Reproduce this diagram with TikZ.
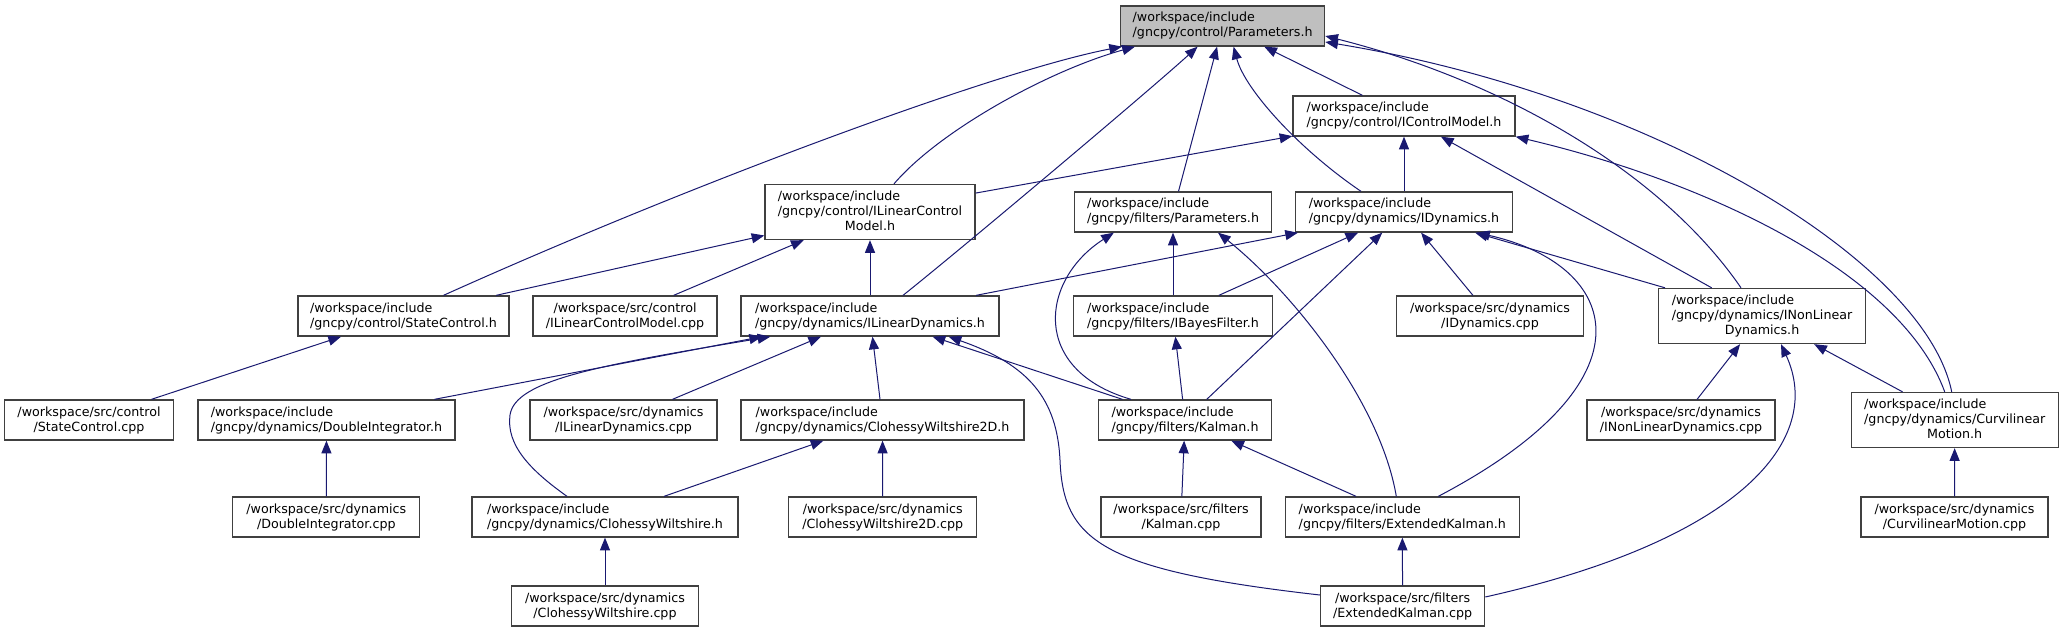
\documentclass[tikz,border=0pt]{standalone}
\usepackage{fontspec}
\setmainfont{DejaVu Sans}
\usetikzlibrary{arrows.meta,calc}
\definecolor{edgeblue}{HTML}{191970}
\definecolor{boxline}{HTML}{404040}
\definecolor{rootfill}{HTML}{BFBFBF}
\newcommand\threelines[3]{\begin{tabular}{@{}l@{}}#1\\#2\\\multicolumn{1}{@{}c@{}}{#3}\end{tabular}}

\begin{document}
\begin{tikzpicture}[x=0.75pt,y=-0.75pt,
  every node/.style={font=\fontsize{9.5}{11.25}\selectfont},
  file/.style={draw=boxline,line width=1pt,fill=white,inner sep=0pt,minimum height=30pt},
  tall/.style={minimum height=41.25pt},
  bw/.style={minimum width=#1*0.75pt},
  inc/.style={file,align=left},
  src/.style={file,align=center},
  dep/.style={draw=edgeblue,line width=0.75pt,{Triangle[length=9.5pt,width=7.5pt]}-}]
\path[fill=white,use as bounding box] (0,0) rectangle (2063,632);
\node[inc,bw=204,fill=rootfill] (ctrlpar) at (1222.6,26) {/workspace/include\\/gncpy/control/Parameters.h};
\node[inc,bw=222] (icm) at (1404,116) {/workspace/include\\/gncpy/control/IControlModel.h};
\node[file,tall,bw=210] (ilcm) at (870,212) {\threelines{/workspace/include}{/gncpy/control/ILinearControl}{Model.h}};
\node[inc,bw=197] (filtpar) at (1173,212) {/workspace/include\\/gncpy/filters/Parameters.h};
\node[inc,bw=217] (idyn) at (1404,212) {/workspace/include\\/gncpy/dynamics/IDynamics.h};
\node[inc,bw=211] (stc) at (403.5,316) {/workspace/include\\/gncpy/control/StateControl.h};
\node[src,bw=184] (ilcmcpp) at (625,316) {/workspace/src/control\\/ILinearControlModel.cpp};
\node[inc,bw=258] (ild) at (870,316) {/workspace/include\\/gncpy/dynamics/ILinearDynamics.h};
\node[inc,bw=199] (ibf) at (1173,316) {/workspace/include\\/gncpy/filters/IBayesFilter.h};
\node[src,bw=187] (idyncpp) at (1490,316) {/workspace/src/dynamics\\/IDynamics.cpp};
\node[file,tall,bw=207] (inld) at (1762,316) {\threelines{/workspace/include}{/gncpy/dynamics/INonLinear}{Dynamics.h}};
\node[src,bw=168.5] (stccpp) at (89,420) {/workspace/src/control\\/StateControl.cpp};
\node[inc,bw=257] (di) at (326.5,420) {/workspace/include\\/gncpy/dynamics/DoubleIntegrator.h};
\node[src,bw=187] (ildcpp) at (623.5,420) {/workspace/src/dynamics\\/ILinearDynamics.cpp};
\node[inc,bw=283] (cw2d) at (882.5,420) {/workspace/include\\/gncpy/dynamics/ClohessyWiltshire2D.h};
\node[inc,bw=173] (kal) at (1185,420) {/workspace/include\\/gncpy/filters/Kalman.h};
\node[src,bw=188] (inldcpp) at (1681,420) {/workspace/src/dynamics\\/INonLinearDynamics.cpp};
\node[file,tall,bw=207] (cvm) at (1954.7,420) {\threelines{/workspace/include}{/gncpy/dynamics/Curvilinear}{Motion.h}};
\node[src,bw=187] (dicpp) at (326.3,517) {/workspace/src/dynamics\\/DoubleIntegrator.cpp};
\node[inc,bw=266] (cw) at (605,517) {/workspace/include\\/gncpy/dynamics/ClohessyWiltshire.h};
\node[src,bw=188] (cw2dcpp) at (882.7,517) {/workspace/src/dynamics\\/ClohessyWiltshire2D.cpp};
\node[src,bw=160] (kalcpp) at (1181,517) {/workspace/src/filters\\/Kalman.cpp};
\node[inc,bw=234] (ekf) at (1402.3,517) {/workspace/include\\/gncpy/filters/ExtendedKalman.h};
\node[src,bw=187] (cvmcpp) at (1954.5,517) {/workspace/src/dynamics\\/CurvilinearMotion.cpp};
\node[src,bw=187] (cwcpp) at (605,606) {/workspace/src/dynamics\\/ClohessyWiltshire.cpp};
\node[src,bw=164] (ekfcpp) at (1402.6,606) {/workspace/src/filters\\/ExtendedKalman.cpp};
\draw[dep] (ctrlpar) -- (filtpar);
\draw[dep] (ctrlpar) -- (icm);
\draw[dep] ($(ctrlpar.south west)+(2,0)$) .. controls (1000,70) and (700,180) .. ($(stc.north)+(40,0)$);
\draw[dep] ($(ctrlpar.south west)+(15,0)$) .. controls (1050,70) and (940,130) .. ($(ilcm.north)+(24,0)$);
\draw[dep] ($(ctrlpar.south)+(-25,0)$) .. controls (1150,90) and (960,250) .. ($(ild.north)+(33,0)$);
\draw[dep] ($(ctrlpar.south)+(11,0)$) .. controls (1245,90) and (1300,150) .. ($(idyn.north)+(-43,0)$);
\draw[dep] ($(ctrlpar.east)+(0,10)$) .. controls (1500,80) and (1660,170) .. ($(inld.north)+(-21,0)$);
\draw[dep] ($(ctrlpar.east)+(0,16)$) .. controls (1650,95) and (1925,260) .. ($(cvm.north)+(-3,0)$);
\draw[dep] (icm) -- (ilcm);
\draw[dep] (icm) -- (idyn);
\draw[dep] (icm) -- (inld);
\draw[dep] (icm.south east) .. controls (1700,180) and (1900,270) .. ($(cvm.north)+(-10,0)$);
\draw[dep] (ilcm) -- (stc);
\draw[dep] (ilcm) -- (ilcmcpp);
\draw[dep] (ilcm) -- (ild);
\draw[dep] (filtpar) -- (ibf);
\draw[dep] ($(filtpar.south west)+(40,0)$) .. controls (1040,280) and (1030,370) .. ($(kal.north)+(-54,0)$);
\draw[dep] ($(filtpar.south)+(45,0)$) .. controls (1290,290) and (1380,400) .. ($(ekf.north)+(-6,0)$);
\draw[dep] (idyn) -- (ild);
\draw[dep] (idyn) -- (ibf);
\draw[dep] (idyn) -- (kal);
\draw[dep] (idyn) -- (idyncpp);
\draw[dep] (idyn) -- (inld);
\draw[dep] ($(idyn.south)+(73,0)$) .. controls (1620,265) and (1660,380) .. ($(ekf.north)+(36,0)$);
\draw[dep] (stc) -- (stccpp);
\draw[dep] (ild) -- (di);
\draw[dep] (ild) -- (ildcpp);
\draw[dep] (ild) -- (cw2d);
\draw[dep] (ild) -- (kal);
\draw[dep] ($(ild.south west)+(30,0)$) .. controls (600,365) and (515,380) .. (510,415) .. controls (506,445) and (530,470) .. ($(cw.north)+(-38,0)$);
\draw[dep] ($(ild.south east)+(-51,0)$) .. controls (1030,365) and (1057,400) .. (1060,460) .. controls (1063,540) and (1100,570) .. ($(ekfcpp.west)+(0,-11)$);
\draw[dep] (ibf) -- (kal);
\draw[dep] (inld) -- (inldcpp);
\draw[dep] (inld) -- (cvm);
\draw[dep] ($(inld.south)+(19,0)$) .. controls (1825,440) and (1740,540) .. ($(ekfcpp.east)+(0,-9)$);
\draw[dep] (di) -- (dicpp);
\draw[dep] (cw2d) -- (cw);
\draw[dep] (cw2d) -- (cw2dcpp);
\draw[dep] (cw) -- (cwcpp);
\draw[dep] (kal) -- (kalcpp);
\draw[dep] (kal) -- (ekf);
\draw[dep] (cvm) -- (cvmcpp);
\draw[dep] (ekf) -- (ekfcpp);
\end{tikzpicture}
\end{document}
